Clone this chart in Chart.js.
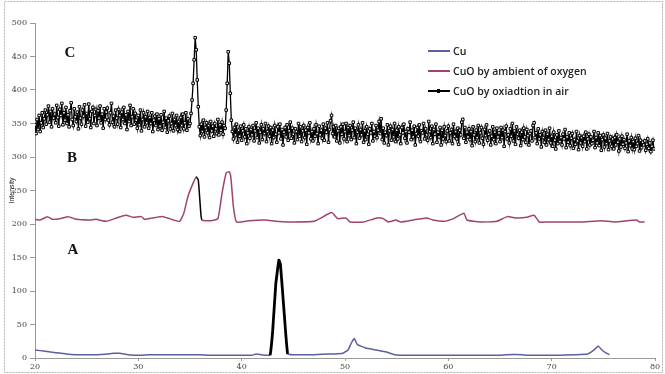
<!DOCTYPE html>
<html><head><meta charset="utf-8">
<script src="https://cdn.jsdelivr.net/npm/chart.js@4.4.1/dist/chart.umd.min.js"></script>
<style>
html,body{margin:0;padding:0;background:#fff;}
#wrap{position:relative;width:665px;height:374px;overflow:hidden;}
canvas{display:block;}
.lbl{position:absolute;font:bold 15px "Liberation Serif",serif;color:#111;transform:translate(-50%,-50%);}
#legend{position:absolute;left:428px;top:41px;font:600 10.5px "Open Sans",sans-serif;color:#222;}
.row{height:20px;display:flex;align-items:center;white-space:nowrap;}
.sw{width:22px;height:0;border-top:2px solid;margin-right:3px;position:relative;}
.mk{position:absolute;left:9px;top:-3px;width:3px;height:4px;background:#000;}
</style></head>
<body>
<div id="wrap"><canvas id="c" width="665" height="374"></canvas><div id="legend"></div></div>
<script>
// ---- data ----
const seriesNames = ['Cu', 'CuO by ambient of oxygen', 'CuO by oxiadtion in air'];
const panelLabels = ['A', 'B', 'C'];
const xTicks = [20, 30, 40, 50, 60, 70, 80];
const yTicks = [0, 50, 100, 150, 200, 250, 300, 350, 400, 450, 500];

// A: Cu
const cuAngle = [20, 21, 22, 23, 24, 25, 26, 27, 27.6, 28.2, 29, 30, 31, 32, 34, 36, 37, 39, 41, 41.4, 41.9, 42.5, 42.75, 43.0, 43.3, 43.6, 43.75, 44.1, 44.45, 45, 47, 48.5, 49, 49.8, 50.3, 50.6, 50.9, 51.2, 52, 53, 54, 54.8, 56, 60, 65, 65.6, 67.2, 67.5, 70, 73.5, 74.1, 74.5, 74.8, 75.2, 75.6];
const cuIntensity = [12, 10, 8, 6, 5, 5, 5, 6, 7, 7, 5, 4, 5, 5, 5, 5, 4, 4, 4, 6, 5, 4, 4, 40, 110, 146, 140, 70, 6, 5, 5, 6, 6, 7, 12, 22, 29, 20, 15, 12, 9, 5, 4, 4, 4, 5, 5, 4, 4, 6, 12, 18, 13, 8, 5];

// B: CuO by ambient of oxygen
const ambAngle = [20, 20.5, 21.2, 21.7, 22.4, 23.2, 24.0, 25.3, 25.9, 26.9, 27.9, 28.8, 29.5, 30.3, 30.6, 31.4, 32.4, 33.4, 34.0, 34.4, 34.8, 35.3, 35.6, 35.8, 36.0, 36.15, 37.0, 37.7, 38.1, 38.5, 38.8, 38.95, 39.2, 39.5, 40.7, 42.3, 43.3, 44.5, 47.0, 48.7, 49.3, 50.1, 50.5, 51.8, 53.1, 53.7, 54.2, 54.9, 55.4, 56.6, 57.9, 58.5, 59.6, 60.5, 61.5, 61.8, 63.1, 64.7, 65.7, 66.6, 67.6, 68.3, 68.8, 69.6, 72.8, 74.8, 76.1, 78.2, 78.5, 79.0];
const ambIntensity = [207, 206, 211, 207, 208, 211, 207, 206, 207, 204, 209, 213, 210, 211, 207, 209, 211, 206, 204, 216, 241, 261, 270, 266, 226, 206, 205, 208, 246, 276, 278, 270, 226, 203, 205, 206, 204, 203, 204, 217, 208, 209, 203, 203, 209, 208, 203, 206, 203, 206, 209, 206, 204, 208, 216, 206, 203, 204, 211, 209, 210, 213, 203, 203, 203, 205, 203, 206, 203, 203];

// C: CuO by oxidation in air (scan from 20 deg, 0.1 deg step; one row per degree)
const airStart = 20, airStep = 0.1;
const airIntensity = [
 348, 335, 356, 341, 362, 338, 351, 366, 344, 357,
 370, 349, 363, 376, 352, 368, 345, 372, 358, 364,
 351, 377, 359, 346, 371, 362, 380, 348, 366, 355,
 374, 350, 363, 345, 369, 381, 356, 347, 372, 360,
 353, 367, 342, 375, 358, 349, 370, 361, 378, 346,
 365, 352, 379, 357, 344, 368, 374, 350, 362, 371,
 347, 369, 358, 376, 351, 364, 343, 372, 356, 367,
 373, 355, 348, 366, 380, 352, 361, 345, 370, 358,
 349, 371, 362, 344, 367, 356, 374, 350, 363, 341,
 368, 353, 377, 347, 360, 372, 349, 365, 355, 343,
 362, 348, 370, 339, 356, 366, 345, 360, 351, 368,
 343, 359, 350, 366, 338, 355, 361, 347, 364, 341,
 357, 346, 363, 340, 352, 368, 344, 358, 337, 354,
 361, 342, 350, 365, 339, 356, 347, 362, 341, 353,
 338, 359, 347, 364, 342, 351, 366, 340, 357, 346,
 350, 365, 385, 410, 445, 478, 460, 415, 375, 345,
 332, 349, 338, 355, 330, 344, 351, 336, 347, 329,
 353, 339, 346, 331, 350, 342, 335, 356, 333, 348,
 340, 352, 334, 347, 343, 370, 410, 457, 440, 395,
 355, 338, 327, 344, 333, 349, 322, 340, 331, 346,
 325, 339, 348, 330, 342, 320, 336, 345, 328, 341,
 333, 347, 324, 339, 351, 329, 343, 321, 337, 348,
 326, 342, 335, 350, 323, 338, 346, 331, 344, 320,
 340, 329, 347, 334, 322, 345, 336, 349, 327, 341,
 318, 337, 344, 330, 348, 325, 339, 352, 328, 343,
 334, 321, 342, 338, 326, 350, 331, 345, 323, 339,
 347, 329, 340, 319, 344, 336, 351, 327, 338, 324,
 342, 331, 348, 335, 320, 346, 333, 340, 328, 349,
 325, 343, 337, 351, 322, 341, 354, 362, 335, 345,
 330, 347, 324, 339, 343, 321, 345, 334, 349, 327,
 338, 350, 323, 344, 332, 347, 326, 340, 352, 329,
 343, 320, 337, 348, 328, 341, 333, 351, 322, 339,
 326, 345, 334, 319, 342, 336, 350, 324, 338, 331,
 347, 329, 340, 353, 335, 357, 326, 343, 321, 337,
 332, 348, 318, 339, 346, 325, 341, 330, 350, 323,
 340, 327, 345, 333, 320, 344, 336, 349, 328, 338,
 321, 342, 337, 352, 326, 340, 330, 346, 318, 335,
 344, 331, 348, 323, 339, 336, 350, 327, 342, 333,
 325, 353, 338, 329, 346, 320, 341, 334, 349, 322,
 337, 330, 344, 318, 340, 327, 345, 332, 323, 339,
 346, 324, 336, 341, 320, 349, 331, 338, 327, 343,
 319, 340, 333, 352, 356, 328, 344, 322, 337, 330,
 342, 326, 338, 317, 345, 333, 323, 340, 329, 347,
 321, 336, 344, 328, 319, 341, 332, 348, 325, 334,
 339, 318, 331, 345, 326, 337, 320, 343, 330, 336,
 323, 344, 329, 340, 316, 338, 346, 327, 333, 321,
 342, 331, 350, 324, 339, 319, 345, 334, 328, 340,
 317, 337, 326, 343, 330, 322, 341, 332, 318, 335,
 339, 324, 347, 351, 329, 336, 320, 342, 327, 333,
 315, 338, 329, 322, 340, 318, 334, 326, 343, 321,
 331, 316, 337, 325, 312, 333, 320, 339, 323, 329,
 318, 334, 327, 341, 314, 330, 322, 336, 317, 328,
 335, 313, 326, 319, 338, 324, 311, 332, 321, 329,
 316, 331, 323, 337, 312, 327, 334, 318, 330, 320,
 325, 338, 314, 329, 321, 336, 317, 332, 310, 326,
 333, 315, 328, 320, 335, 311, 324, 330, 316, 327,
 312, 329, 318, 333, 322, 309, 327, 315, 331, 319,
 326, 313, 321, 334, 308, 324, 317, 329, 312, 323,
 311, 328, 316, 320, 332, 309, 325, 314, 322, 318,
 324, 310, 319, 327, 313, 321, 308, 316, 325, 312
];

// ---- styling ----
const colors = ['#5d5f9e', '#a0436f', '#000000'];
const cuBlackRange = [42.7, 44.5];
const ambBlackRange = [35.55, 36.2];

const zip = (xs, ys) => xs.map((x, i) => ({x: x, y: ys[i]}));
const airData = airIntensity.map((y, i) => ({x: +(airStart + i * airStep).toFixed(2), y: y}));
const inRange = (ctx, r) => ctx.p0.parsed.x >= r[0] && ctx.p1.parsed.x <= r[1];

const framePlugin = {
  id: 'frame',
  beforeDraw(chart) {
    const c = chart.ctx;
    c.save();
    c.fillStyle = '#fff';
    c.fillRect(0, 0, chart.width, chart.height);
    c.strokeStyle = '#b4b4b4';
    c.lineWidth = 1;
    c.setLineDash([2, 1]);
    c.strokeRect(4.5, 1.5, 658, 371);
    c.restore();
  }
};

const tickFont = {family: '"DejaVu Serif", serif', size: 8};

new Chart(document.getElementById('c'), {
  type: 'line',
  data: {
    datasets: [
      {
        label: seriesNames[0], data: zip(cuAngle, cuIntensity),
        borderColor: colors[0], borderWidth: 1.5, pointRadius: 0, tension: 0.1,
        segment: {
          borderColor: ctx => inRange(ctx, cuBlackRange) ? '#000' : colors[0],
          borderWidth: ctx => inRange(ctx, cuBlackRange) ? 2.8 : 1.5
        }
      },
      {
        label: seriesNames[1], data: zip(ambAngle, ambIntensity),
        borderColor: colors[1], borderWidth: 1.5, pointRadius: 0, tension: 0.15,
        segment: {
          borderColor: ctx => inRange(ctx, ambBlackRange) ? '#000' : colors[1]
        }
      },
      {
        label: seriesNames[2], data: airData,
        borderColor: colors[2], borderWidth: 1.3, tension: 0,
        pointStyle: 'rect', pointRadius: 1.8, pointBackgroundColor: '#fff',
        pointBorderColor: '#000', pointBorderWidth: 1
      }
    ]
  },
  options: {
    responsive: false,
    animation: false,
    layout: {padding: {left: 0, right: 10, top: 23, bottom: 0}},
    plugins: {legend: {display: false}, tooltip: {enabled: false}},
    scales: {
      x: {
        type: 'linear', min: 20, max: 80,
        afterBuildTicks: s => { s.ticks = xTicks.map(v => ({value: v})); },
        afterFit: s => { s.height = 16; },
        ticks: {font: tickFont, color: '#444', padding: 1, maxRotation: 0},
        grid: {drawOnChartArea: false, tickLength: 3, color: '#999'},
        border: {color: '#999'}
      },
      y: {
        min: 0, max: 500,
        afterBuildTicks: s => { s.ticks = yTicks.map(v => ({value: v})); },
        afterFit: s => { s.width = 35; },
        ticks: {font: tickFont, color: '#444', padding: 3},
        grid: {drawOnChartArea: false, tickLength: 5, color: '#999'},
        border: {color: '#999'},
        title: {display: true, text: 'Intensity', font: {family: '"Liberation Sans", sans-serif', size: 7}, color: '#222', padding: {top: 8, bottom: 0}}
      }
    }
  },
  plugins: [framePlugin]
});

// legend (HTML)
const lg = document.getElementById('legend');
seriesNames.forEach((name, i) => {
  const row = document.createElement('div'); row.className = 'row';
  const sw = document.createElement('span'); sw.className = 'sw'; sw.style.borderColor = colors[i];
  if (i === 2) { const mk = document.createElement('span'); mk.className = 'mk'; sw.appendChild(mk); }
  const tx = document.createElement('span'); tx.textContent = name;
  row.appendChild(sw); row.appendChild(tx); lg.appendChild(row);
});

// panel labels
const labelPos = [[73, 249], [72, 157], [70, 52]];
panelLabels.forEach((t, i) => {
  const d = document.createElement('div'); d.className = 'lbl'; d.textContent = t;
  d.style.left = labelPos[i][0] + 'px'; d.style.top = labelPos[i][1] + 'px';
  document.getElementById('wrap').appendChild(d);
});
</script>
</body></html>
